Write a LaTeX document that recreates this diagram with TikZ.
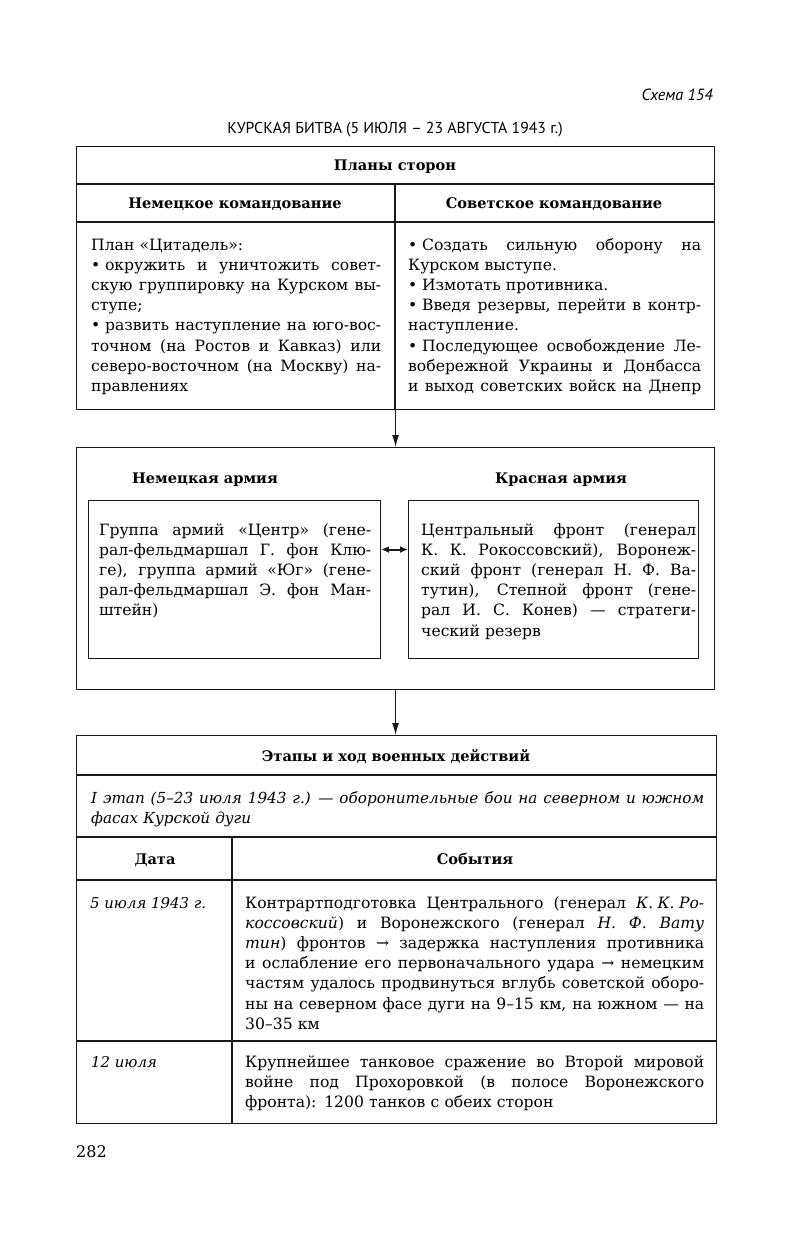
\documentclass[tikz,border=0pt]{standalone}
\usepackage{fontspec}
\setmainfont{DejaVu Serif}
\newfontfamily\headsans{PT Sans}
\usetikzlibrary{arrows.meta}
\newcommand\JL[1]{\leavevmode\hbox to \W{\spaceskip=.32em plus 1em minus .08em\relax #1}}
\newcommand\NL[1]{\leavevmode\hbox to \W{#1\hfil}}
\newcommand\B{•\hspace{.3em}}
\newcommand\ini{\hspace{.28em}}
\begin{document}
\begin{tikzpicture}[x=1pt,y=-1pt,
  frame/.style={draw=black!90,line width=1.1pt,inner sep=0pt,anchor=north west},
  rule/.style={draw=black!90,line width=1.1pt},
  bodytext/.style={inner sep=0pt,anchor=base west,align=left,font=\fontsize{15.6}{20.2}\selectfont},
  headtext/.style={inner sep=0pt,anchor=base,font=\fontsize{14.6}{17}\selectfont\bfseries},
  arr/.style={draw=black!90,line width=1.1pt,-{Latex[length=12pt,width=7pt]}},
  dblarr/.style={draw=black!90,line width=2pt,{Latex[length=8pt,width=7pt]}-{Latex[length=8pt,width=7pt]}}
]
\useasboundingbox[fill=white] (0,0) rectangle (791,1245);

% headings
\node[inner sep=0pt,anchor=base east,font=\headsans\itshape\fontsize{16.2}{18}\selectfont] (schema) at (713,100) {Схема 154};
\node[inner sep=0pt,anchor=base,font=\headsans\fontsize{15.8}{18}\selectfont] (title) at (395,133) {КУРСКАЯ БИТВА (5 ИЮЛЯ – 23 АВГУСТА 1943 г.)};

% table 1
\node[frame,minimum width=638pt,minimum height=263pt] (t1) at (76,146) {};
\draw[rule] (76,184) -- (714,184);
\draw[rule] (76,222) -- (714,222);
\draw[rule] (395,184) -- (395,409);
\node[headtext] (plans) at (395,170) {Планы сторон};
\node[headtext] (gercmd) at (235,208) {Немецкое командование};
\node[headtext] (sovcmd) at (554,208) {Советское командование};
\node[bodytext,text width=290pt] (gerplan) at (91,250) {\def\W{290pt}%
\NL{План «Цитадель»:}\\
\JL{\B окружить и уничтожить совет-}\\
\JL{скую группировку на Курском вы-}\\
\NL{ступе;}\\
\JL{\B развить наступление на юго-вос-}\\
\JL{точном (на Ростов и Кавказ) или}\\
\JL{северо-восточном (на Москву) на-}\\
\NL{правлениях}};
\node[bodytext,text width=293pt] (sovplan) at (408,250) {\def\W{293pt}%
\JL{\B Создать сильную оборону на}\\
\NL{Курском выступе.}\\
\NL{\B Измотать противника.}\\
\JL{\B Введя резервы, перейти в контр-}\\
\NL{наступление.}\\
\JL{\B Последующее освобождение Ле-}\\
\JL{вобережной Украины и Донбасса}\\
\JL{и выход советских войск на Днепр}};

% box 2
\node[frame,minimum width=638pt,minimum height=242pt] (b2) at (76,447) {};
\draw[arr] (t1.south) -- (b2.north);
\node[headtext] (gerarmy) at (205,483) {Немецкая армия};
\node[headtext] (redarmy) at (561,483) {Красная армия};
\node[frame,minimum width=292pt,minimum height=158pt] (lbox) at (88,500) {};
\node[frame,minimum width=290pt,minimum height=158pt] (rbox) at (408,500) {};
\draw[dblarr] ([yshift=30pt]lbox.east) -- ([yshift=30pt]rbox.west);
\node[bodytext,text width=272pt] (gergroups) at (99,535) {\def\W{272pt}%
\JL{Группа армий «Центр» (гене-}\\
\JL{рал-фельдмаршал Г. фон Клю-}\\
\JL{ге), группа армий «Юг» (гене-}\\
\JL{рал-фельдмаршал Э. фон Ман-}\\
\NL{штейн)}};
\node[bodytext,text width=275pt] (redfronts) at (421,535) {\def\W{275pt}%
\JL{Центральный фронт (генерал}\\
\JL{К. К. Рокоссовский), Воронеж-}\\
\JL{ский фронт (генерал Н. Ф. Ва-}\\
\JL{тутин), Степной фронт (гене-}\\
\JL{рал И. С. Конев) — стратеги-}\\
\NL{ческий резерв}};

% table 3
\node[frame,minimum width=640pt,minimum height=388pt] (t3) at (76,735) {};
\draw[arr] (b2.south) -- (b2.south |- t3.north);
\draw[rule] (76,775) -- (716,775);
\draw[rule] (76,837) -- (716,837);
\draw[rule] (76,880) -- (716,880);
\draw[rule] (76,1041) -- (716,1041);
\draw[rule] (232,837) -- (232,1123);
\node[headtext] (stages) at (396,761) {Этапы и ход военных действий};
\node[bodytext,text width=613pt,font=\fontsize{15.2}{20.5}\selectfont\itshape] (stage1) at (91,803) {\def\W{613pt}%
\JL{I этап (5–23 июля 1943 г.) — оборонительные бои на северном и южном}\\
\NL{фасах Курской дуги}};
\node[headtext] (datehead) at (155,864) {Дата};
\node[headtext] (eventhead) at (475,864) {События};
\node[bodytext,font=\fontsize{14.9}{20}\selectfont\itshape] (date1) at (90,908) {5 июля 1943 г.};
\node[bodytext,text width=459pt] (event1) at (245,908) {\def\W{459pt}%
\JL{Контрартподготовка Центрального (генерал \textit{К.\ini К.\ini Ро-}}\\
\JL{\textit{коссовский}) и Воронежского (генерал \textit{Н. Ф. Вату}}\\
\JL{\textit{тин}) фронтов → задержка наступления противника}\\
\JL{и ослабление его первоначального удара → немецким}\\
\JL{частям удалось продвинуться вглубь советской оборо-}\\
\JL{ны на северном фасе дуги на 9–15 км, на южном — на}\\
\NL{30–35 км}};
\node[bodytext,font=\fontsize{14.9}{20}\selectfont\itshape] (date2) at (91,1067) {12 июля};
\node[bodytext,text width=459pt] (event2) at (245,1067) {\def\W{459pt}%
\JL{Крупнейшее танковое сражение во Второй мировой}\\
\JL{войне под Прохоровкой (в полосе Воронежского}\\
\NL{фронта): 1200 танков с обеих сторон}};

\node[inner sep=0pt,anchor=base west,font=\fontsize{16}{18}\selectfont] (page) at (76,1157) {282};
\end{tikzpicture}
\end{document}
